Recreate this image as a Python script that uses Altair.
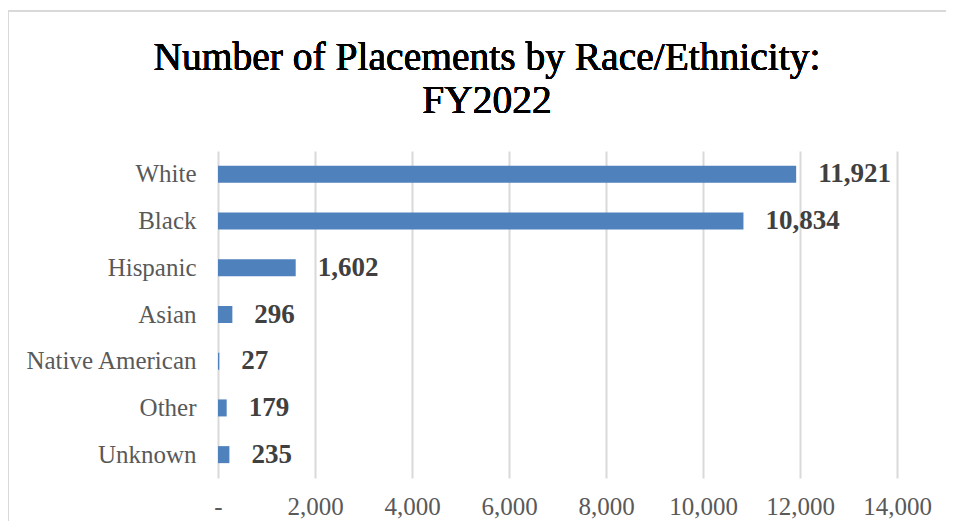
import altair as alt
import pandas as pd

categories = ["White", "Black", "Hispanic", "Asian", "Native American", "Other", "Unknown"]
values = [11921, 10834, 1602, 296, 27, 179, 235]
x_ticks = [0, 2000, 4000, 6000, 8000, 10000, 12000, 14000]
title_lines = ["Number of Placements by Race/Ethnicity:", "FY2022"]

df = pd.DataFrame({"cat": categories, "val": values})

FONT = "Liberation Serif"
W, H = 679, 327

x_enc = alt.X(
    "val:Q",
    scale=alt.Scale(domain=[0, 14000], nice=False),
    axis=alt.Axis(
        values=x_ticks,
        title=None,
        domain=False,
        ticks=False,
        grid=True,
        gridColor="#d9d9d9",
        gridWidth=2,
        labelFont=FONT,
        labelFontSize=25,
        labelColor="#595959",
        labelPadding=16,
        labelFlush=False,
        labelOverlap=False,
        labelExpr="datum.value == 0 ? '-' : format(datum.value, ',')",
    ),
)
y_enc = alt.Y(
    "cat:N",
    sort=categories,
    scale=alt.Scale(paddingInner=0.636, paddingOuter=0.318),
    axis=alt.Axis(
        title=None,
        domain=False,
        ticks=False,
        labelFont=FONT,
        labelFontSize=25,
        labelColor="#595959",
        labelPadding=22,
    ),
)

bars = alt.Chart(df).mark_bar(color="#4f81bd").encode(x=x_enc, y=y_enc)

labels = alt.Chart(df).mark_text(
    align="left", baseline="middle", dx=22, font=FONT, fontSize=27,
    fontWeight="bold", color="#404040",
).encode(x="val:Q", y=alt.Y("cat:N", sort=categories), text=alt.Text("val:Q", format=","))

title = alt.Chart(df).mark_text(
    align="center", baseline="alphabetic", font=FONT, fontSize=39.5,
    fontWeight="normal", color="#000000", lineHeight=43,
).encode(x=alt.value(269), y=alt.value(-81), text=alt.value(title_lines))

border_top = alt.Chart(df).mark_rule(color="#d9d9d9", strokeWidth=1.5).encode(
    x=alt.value(-210), x2=alt.value(780), y=alt.value(-140)
)
border_left = alt.Chart(df).mark_rule(color="#d9d9d9", strokeWidth=1.5).encode(
    x=alt.value(-210), y=alt.value(-140), y2=alt.value(420)
)

chart = alt.layer(border_top, border_left, bars, labels, title).properties(
    width=W,
    height=H,
    autosize=alt.AutoSizeParams(type="none"),
    padding={"left": 210, "top": 143, "right": 49, "bottom": 43},
).configure_view(stroke=None)

chart.save("out.html", embed_options={"renderer": "svg", "actions": False})
